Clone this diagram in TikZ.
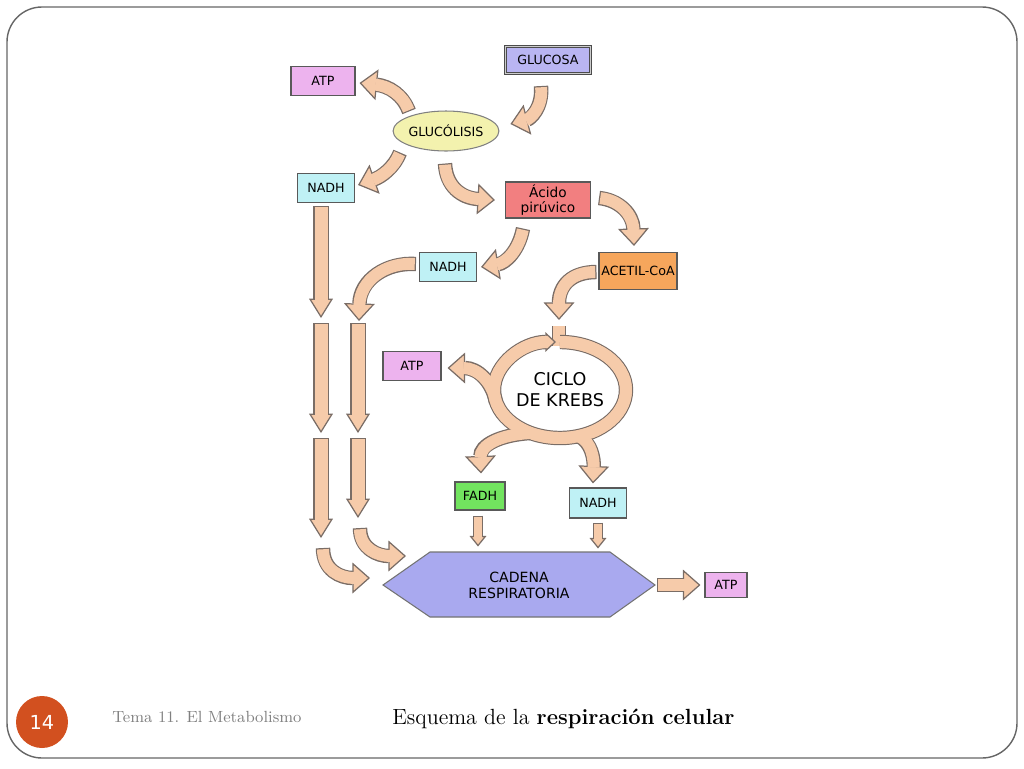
\documentclass[tikz,border=0pt]{standalone}
\usepackage{fontspec}
\setsansfont{DejaVu Sans}
\usetikzlibrary{arrows.meta,calc,shapes.geometric}

\definecolor{peach}{HTML}{F6CBAA}
\definecolor{edge}{HTML}{7A6D66}
\definecolor{lila}{HTML}{B9B5F2}
\definecolor{rosa}{HTML}{EDB3EE}
\definecolor{amarillo}{HTML}{F3F2AE}
\definecolor{celeste}{HTML}{BFF1F5}
\definecolor{salmon}{HTML}{F27F80}
\definecolor{naranja}{HTML}{F6A65C}
\definecolor{verde}{HTML}{72E45F}
\definecolor{azul}{HTML}{A9A9EF}
\definecolor{marco}{HTML}{666666}
\definecolor{numero}{HTML}{D2501F}

\begin{document}
\begin{tikzpicture}[x=0.02cm, y=-0.02cm,
        box/.style = {draw=black!65, line width=0.6pt, minimum height=0.58cm, inner sep=0pt, font=\sffamily\fontsize{7.2}{8.5}\selectfont},
        fatarrow/.style = {draw=edge, line width=8.2pt, -{Triangle[length=10pt, width=17.5pt, fill=peach, line width=0.7pt]},
            postaction={draw=peach, line width=6.8pt, -, shorten >=9pt, shorten <=0.7pt}},
        ringarrow/.style = {draw=edge, line width=8.2pt, -{Triangle[length=6pt, width=11pt, fill=peach, line width=0.7pt]},
            postaction={draw=peach, line width=6.8pt, -, shorten >=5pt}},
        longarrow/.style = {draw=edge, line width=8.8pt, -{Triangle[length=11pt, width=13.5pt, fill=peach, line width=0.7pt]},
            postaction={draw=peach, line width=7.4pt, -, shorten >=10pt, shorten <=0.7pt}},
        smallarrow/.style = {draw=edge, line width=5.4pt, -{Triangle[length=6pt, width=9.5pt, fill=peach, line width=0.7pt]},
            postaction={draw=peach, line width=4pt, -, shorten >=5pt, shorten <=0.7pt}},
        band/.style = {draw=edge, line width=8.2pt, postaction={draw=peach, line width=6.8pt}},
        bandfill/.style = {draw=peach, line width=6.8pt},]
        \useasboundingbox (0,0) rectangle (1024,768);
        \draw[marco, line width=0.8pt, rounded corners=0.7cm] (7,7) rectangle (1017,758);

        \node[box, fill=lila, minimum width=1.7cm, minimum height=0.54cm, draw=black!70, double=black!20, double distance=1pt] (glucosa) at (548,60) {GLUCOSA};
        \node[box, fill=rosa, minimum width=1.28cm] (atpA) at (323,81) {ATP};
        \node[box, ellipse, fill=amarillo, draw=black!50, minimum width=1.84cm, minimum height=0.8cm] (glucolisis) at (446,131) {GLUCÓLISIS};
        \node[box, fill=celeste, minimum width=1.14cm] (nadhA) at (326,188) {NADH};
        \node[box, fill=salmon, minimum width=1.7cm, minimum height=0.72cm, align=center, font=\sffamily\fontsize{7.8}{9}\selectfont] (acido) at (548,200) {Ácido\\pirúvico};
        \node[box, fill=celeste, minimum width=1.14cm] (nadhB) at (448,267) {NADH};
        \node[box, fill=naranja, minimum width=1.56cm, minimum height=0.74cm] (acetil) at (638,271) {ACETIL-CoA};
        \node[box, fill=rosa, minimum width=1.16cm] (atpB) at (412,366) {ATP};
        \node[align=center, font=\sffamily\fontsize{10}{12}\selectfont] (krebs) at (560,390) {CICLO\\DE KREBS};
        \node[box, fill=verde, minimum width=1cm, minimum height=0.56cm] (fadh) at (480,496) {FADH};
        \node[box, fill=celeste, minimum width=1.14cm, minimum height=0.6cm] (nadhC) at (598,503) {NADH};
        \draw[draw=black!55, line width=0.6pt, fill=azul] (383,585) -- (430,552) -- (610,552) -- (655,585) -- (610,617) -- (430,617) -- cycle;
        \node[align=center, font=\sffamily\fontsize{8}{9}\selectfont] (cadena) at (519,585) {CADENA\\RESPIRATORIA};
        \node[box, fill=rosa, minimum width=0.84cm, minimum height=0.5cm] (atpC) at (726,585) {ATP};

        % glucolisis
        \draw[fatarrow] ($(glucosa.south)+(-7,12)$) .. controls (543,108) and (530,119) .. ($(glucolisis.east)+(11,-7)$);
        \draw[fatarrow] ($(glucolisis.north)+(-37,1)$) .. controls (403,95) and (389,86) .. ($(atpA.east)+(4,2)$);
        \draw[fatarrow] ($(glucolisis.south)+(-46,1)$) .. controls (394,168) and (381,177) .. ($(nadhA.east)+(3,-3)$);
        \draw[fatarrow] ($(glucolisis.south)+(-1,12)$) .. controls (446,186) and (461,198) .. ($(acido.west)+(-10,0)$);

        % acido piruvico
        \draw[fatarrow] ($(acido.east)+(8,-2)$) .. controls (619,200) and (633,214) .. ($(acetil.north)+(-4,-6)$);
        \draw[fatarrow] ($(acido.south)+(-25,10)$) .. controls (519,250) and (506,263) .. ($(nadhB.east)+(4,0)$);
        \draw[fatarrow] ($(nadhB.west)+(-3,-3)$) .. controls (386,262) and (360,280) .. ($(nadhA.south)+(33,118)$);
        \draw[fatarrow] ($(acetil.west)+(-2,1)$) .. controls (571,272) and (559,286) .. ($(krebs)+(-1,-70)$);

        % columnas NADH
        \draw[longarrow] ($(nadhA.south)+(-5,3)$) -- ++(0,112);
        \draw[longarrow] ($(nadhA.south)+(-5,120)$) -- ++(0,110);
        \draw[longarrow] ($(nadhA.south)+(-5,235)$) -- ++(0,100);
        \draw[longarrow] ($(nadhA.south)+(32,120)$) -- ++(0,110);
        \draw[longarrow] ($(nadhA.south)+(32,235)$) -- ++(0,80);
        \draw[fatarrow] ($(nadhA.south)+(-3,345)$) .. controls (323,570) and (340,578) .. ($(cadena)+(-149,-7)$);
        \draw[fatarrow] ($(nadhA.south)+(34,325)$) .. controls (360,549) and (378,556) .. ($(cadena)+(-113,-29)$);

        % ciclo de Krebs
        \begin{scope}[shift={(krebs)}]
            \draw[band] (-1,-64) -- (-1,-44);
            \draw[ringarrow] (0,-48) .. controls (36.5,-48) and (66,-26.5) .. (66,0) .. controls (66,26.5) and (36.5,48) .. (0,48)
                .. controls (-36.5,48) and (-66,26.5) .. (-66,0) .. controls (-66,-26.5) and (-36.5,-48) .. (-4,-48);
            \draw[fatarrow] (-64,12) .. controls (-68,-8) and (-82,-22) .. ($(atpB.east)+(6,2)$);
            \draw[fatarrow] (-30,43) .. controls (-60,45) and (-80,55) .. ($(fadh.north)+(1,-8)$);
            \draw[fatarrow] (18,46) .. controls (32,52) and (34,70) .. ($(nadhC.north)+(-5,-4)$);
            \draw[bandfill, shorten >=6pt] (0,-48) .. controls (36.5,-48) and (66,-26.5) .. (66,0) .. controls (66,26.5) and (36.5,48) .. (0,48)
                .. controls (-36.5,48) and (-66,26.5) .. (-66,0) .. controls (-66,-26.5) and (-36.5,-48) .. (-4,-48);
        \end{scope}

        % cadena respiratoria
        \draw[smallarrow] ($(fadh.south)+(-2,5)$) -- ($(fadh.south)+(-2,36)$);
        \draw[smallarrow] ($(nadhC.south)+(0,4)$) -- ($(nadhC.south)+(0,30)$);
        \draw[fatarrow] ($(cadena)+(138,0)$) -- ($(atpC.west)+(-4,0)$);

        % pie
        \node[circle, fill=numero, minimum size=1.04cm, inner sep=0pt, text=white, font=\sffamily\fontsize{11}{13}\selectfont] (pagina) at (42,722) {14};
        \node[anchor=west, inner sep=0pt, text=black!50, font=\fontsize{9.2}{11}\selectfont] (tema) at (112,717) {Tema 11. El Metabolismo};
        \node[anchor=west, inner sep=0pt, font=\fontsize{12.5}{14}\selectfont] (titulo) at (392,719) {Esquema de la \textbf{respiración celular}};
\end{tikzpicture}
\end{document}
